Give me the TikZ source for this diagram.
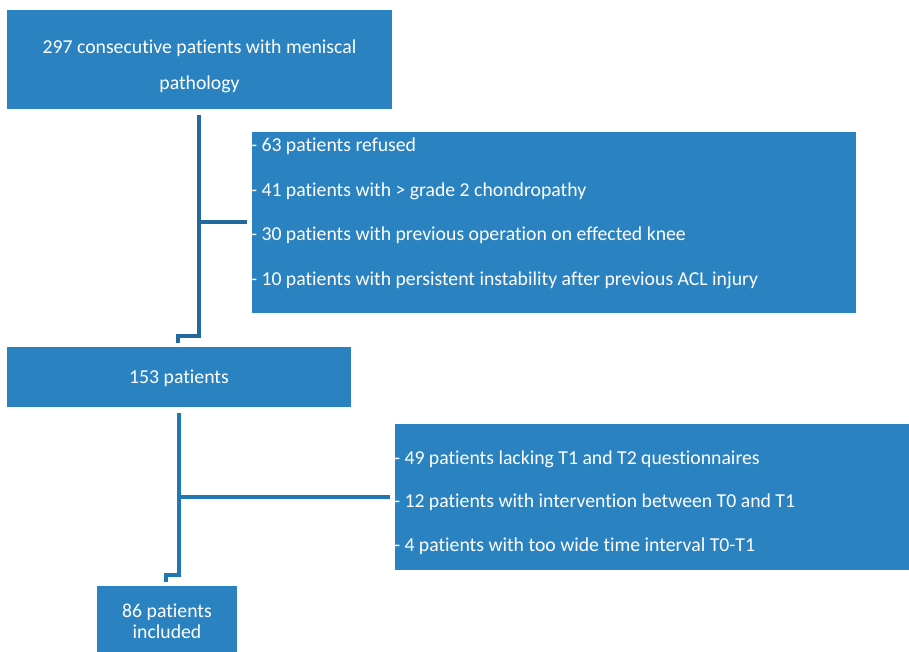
\documentclass[tikz,border=0pt]{standalone}
\usepackage{fontspec}
\setmainfont{Carlito}[Ligatures={NoCommon}]
\definecolor{boxblue}{HTML}{2A83C0}
\definecolor{linkA}{HTML}{22699D}
\definecolor{linkB}{HTML}{1F77B4}
\begin{document}
\begin{tikzpicture}[x=0.75pt,y=-0.75pt,
  box/.style={fill=boxblue,draw=none,inner sep=0pt,outer sep=0pt},
  txt/.style={text=white,inner sep=0pt,outer sep=0pt,font=\fontsize{14.8}{17}\selectfont},
  linkone/.style={draw=linkA,line width=3pt,line join=miter},
  linktwo/.style={draw=linkB,line width=3pt,line join=miter}]
\useasboundingbox (0,0) rectangle (909,652);
% boxes
\node[box,minimum width=288.75pt,minimum height=74.25pt] (b1) at (199.5,59.5) {};
\node[box,minimum width=453pt,minimum height=135.75pt] (b2) at (554,222.5) {};
\node[box,minimum width=258pt,minimum height=45pt] (b3) at (179,377) {};
\node[box,minimum width=387pt,minimum height=109.5pt] (b4) at (653,497) {};
\node[box,minimum width=105pt,minimum height=49.5pt] (b5) at (167,619) {};
% texts
\node[txt,anchor=base] (t1a) at (199.5,54) {297 consecutive patients with meniscal};
\node[txt,anchor=base] (t1b) at (199.5,90) {pathology};
\node[txt,anchor=base west] (t2a) at (251,152) {- 63 patients refused};
\node[txt,anchor=base west] (t2b) at (251,196.3) {- 41 patients with > grade 2 chondropathy};
\node[txt,anchor=base west] (t2c) at (251,240.6) {- 30 patients with previous operation on effected knee};
\node[txt,anchor=base west] (t2d) at (251,285) {- 10 patients with persistent instability after previous ACL injury};
\node[txt,anchor=base] (t3) at (179,383) {153 patients};
\node[txt,anchor=base west] (t4a) at (394,464) {- 49 patients lacking T1 and T2 questionnaires};
\node[txt,anchor=base west] (t4b) at (394,507.5) {- 12 patients with intervention between T0 and T1};
\node[txt,anchor=base west] (t4c) at (394,551.5) {- 4 patients with too wide time interval T0-T1};
\node[txt,anchor=base] (t5a) at (167,617) {86 patients};
\node[txt,anchor=base] (t5b) at (167,638) {included};
% connector coordinates
\coordinate (c1s) at (199,115);
\coordinate (c1m) at (199,222);
\coordinate (c1e) at (247,222);
\coordinate (c1k) at (199,336);
\coordinate (c1h) at (178,336);
\coordinate (c1t) at (178,343);
\coordinate (c2s) at (179,413);
\coordinate (c2m) at (179,497);
\coordinate (c2e) at (390,497);
\coordinate (c2k) at (179,575);
\coordinate (c2h) at (166,575);
\coordinate (c2t) at (166,582);
% connectors
\draw[linkone] (c1s) -- (c1k) -- (c1h) -- (c1t);
\draw[linkone] (c1m) -- (c1e);
\draw[linktwo] (c2s) -- (c2k) -- (c2h) -- (c2t);
\draw[linktwo] (c2m) -- (c2e);
\end{tikzpicture}
\end{document}
